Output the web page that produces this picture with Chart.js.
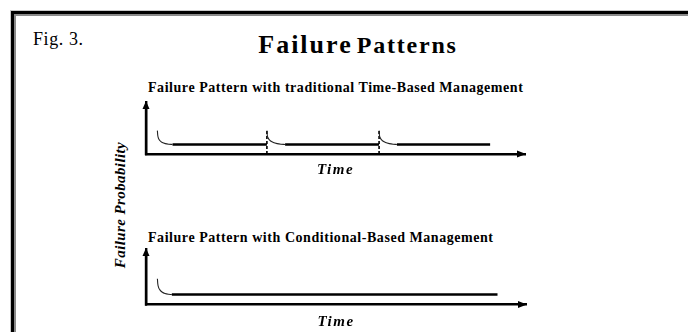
<!DOCTYPE html>
<html>
<head>
<meta charset="utf-8">
<script src="https://cdn.jsdelivr.net/npm/chart.js@4"></script>
<style>
  html, body { margin: 0; padding: 0; background: #fff; }
  body { width: 688px; height: 332px; position: relative; overflow: hidden; font-family: "Liberation Serif", "Times New Roman", serif; }
  #frame { position: absolute; left: 10px; top: 10px; width: 720px; height: 360px; border-left: 1px solid #c8c8c8; border-top: 1px solid #c8c8c8; }
  #frame2 { position: absolute; left: 0; top: 0; right: 0; bottom: 0; border-left: 3px solid #000; border-top: 3px solid #000; }
  #frame3 { position: absolute; left: 0; top: 0; right: 0; bottom: 0; border-left: 2px solid #8a8a8a; border-top: 2px solid #8a8a8a; }
  .txt { position: absolute; white-space: nowrap; color: #000; z-index: 1; }
  #fig { left: 33px; top: 29px; font-size: 18px; letter-spacing: 0.6px; }
  #title { left: 0; width: 716px; top: 30px; text-align: center; font-weight: bold; }
  #title .a { font-size: 26px; letter-spacing: 2px; }
  #title .b { font-size: 24px; letter-spacing: 1.8px; }
  #sub1 { left: 148px; top: 80px; font-size: 14px; font-weight: bold; letter-spacing: 0.55px; }
  #sub2 { left: 148px; top: 230px; font-size: 14px; font-weight: bold; letter-spacing: 0.55px; }
  #ylab { left: 120px; top: 205px; font-size: 15px; font-weight: bold; font-style: italic; letter-spacing: 0.4px; transform: translate(-50%, -50%) rotate(-90deg); }
  .plot { position: absolute; left: 0; width: 688px; }
  #w1 { top: 0; height: 190px; z-index: 3; }
  #w2 { top: 190px; height: 142px; z-index: 2; }
</style>
</head>
<body>
<div id="frame"><div id="frame2"><div id="frame3"></div></div></div>
<div class="txt" id="fig">Fig. 3.</div>
<div class="txt" id="title"><span class="a">Failure</span> <span class="b">Patterns</span></div>
<div class="txt" id="sub1">Failure Pattern with traditional Time-Based Management</div>
<div class="txt" id="sub2">Failure Pattern with Conditional-Based Management</div>
<div class="txt" id="ylab">Failure Probability</div>
<div class="plot" id="w1"><canvas id="c1" width="688" height="190"></canvas></div>
<div class="plot" id="w2"><canvas id="c2" width="688" height="142"></canvas></div>
<script>
// ---- scale ranges ----
const timeRange = [0, 100];
const probRange = [0, 10];
const xAxisLabel = "Time";

// ---- top chart: traditional time-based management ----
const topDecay1Time = [3.0, 3.1, 3.3, 3.7, 4.3, 5.1, 6.0, 7.0];
const topDecay1Prob = [4.5, 3.6, 3.0, 2.55, 2.22, 2.0, 1.88, 1.83];
const topDecay2Time = [31.9, 32.0, 32.3, 32.8, 33.6, 34.6, 35.6, 36.7];
const topDecay2Prob = [4.5, 3.6, 3.0, 2.55, 2.22, 2.0, 1.88, 1.83];
const topDecay3Time = [61.5, 61.6, 61.9, 62.4, 63.2, 64.2, 65.2, 66.2];
const topDecay3Prob = [4.5, 3.6, 3.0, 2.55, 2.22, 2.0, 1.88, 1.83];
const topFlatStart = [7.0, 36.7, 66.2];
const topFlatEnd = [31.9, 61.5, 90.8];
const topFlatProb = [1.83, 1.83, 1.83];
const topMaintTime = [31.9, 61.5];
const topMaintProb = [4.5, 4.5];

// ---- bottom chart: condition-based management ----
const botDecayTime = [3.0, 3.1, 3.3, 3.7, 4.3, 5.0, 5.9, 6.8];
const botDecayProb = [4.65, 3.75, 3.1, 2.6, 2.2, 1.98, 1.85, 1.8];
const botFlatStart = [6.8];
const botFlatEnd = [92.5];
const botFlatProb = [1.8];

function pts(xs, ys) { return xs.map((x, i) => ({ x: x, y: ys[i] })); }
function segs(starts, ends, levels) {
  const out = [];
  starts.forEach((s, i) => {
    out.push({ x: s, y: levels[i] }, { x: ends[i], y: levels[i] });
    if (i < starts.length - 1) out.push({ x: (ends[i] + starts[i + 1]) / 2, y: null });
  });
  return out;
}
function vsegs(xs, tops) {
  const out = [];
  xs.forEach((x, i) => {
    out.push({ x: x, y: probRange[0] }, { x: x, y: tops[i] });
    if (i < xs.length - 1) out.push({ x: (x + xs[i + 1]) / 2, y: null });
  });
  return out;
}

const arrowPlugin = {
  id: 'axisArrows',
  beforeDraw(chart) { chart.ctx.letterSpacing = '1.5px'; },
  afterDraw(chart) {
    const ctx = chart.ctx, xs = chart.scales.x, ys = chart.scales.y;
    ctx.letterSpacing = '0px';
    const x0 = xs.getPixelForValue(timeRange[0]);
    const y0 = ys.getPixelForValue(probRange[0]);
    const yTop = ys.getPixelForValue(probRange[1]);
    const xEnd = xs.getPixelForValue(timeRange[1]);
    ctx.save();
    ctx.setLineDash([]);
    ctx.strokeStyle = '#000';
    ctx.lineWidth = 2.4;
    ctx.beginPath();
    ctx.moveTo(x0, y0 + 1.2);
    ctx.lineTo(x0, yTop + 4);
    ctx.stroke();
    ctx.fillStyle = '#000';
    ctx.beginPath();
    ctx.moveTo(x0, yTop - 1);
    ctx.lineTo(x0 - 3.5, yTop + 7);
    ctx.lineTo(x0 + 3.5, yTop + 7);
    ctx.closePath();
    ctx.fill();
    ctx.beginPath();
    ctx.moveTo(xEnd + 1, y0);
    ctx.lineTo(xEnd - 8, y0 - 3.5);
    ctx.lineTo(xEnd - 8, y0 + 3.5);
    ctx.closePath();
    ctx.fill();
    ctx.restore();
  }
};

const thinLine = { borderColor: '#222', borderWidth: 1.1, pointRadius: 0, cubicInterpolationMode: 'monotone', fill: false, spanGaps: false };
const flatLine = { borderColor: '#000', borderWidth: 2.6, pointRadius: 0, tension: 0, fill: false, spanGaps: false, borderCapStyle: 'butt' };
const dashLine = { borderColor: '#000', borderWidth: 1.6, pointRadius: 0, tension: 0, fill: false, spanGaps: false, borderDash: [3, 2] };

function makeOptions(pad, titleTop) {
  return {
    responsive: false,
    animation: false,
    events: [],
    layout: { padding: pad },
    plugins: { legend: { display: false }, tooltip: { enabled: false }, title: { display: false } },
    scales: {
      x: {
        type: 'linear', min: timeRange[0], max: timeRange[1],
        grid: { display: false, drawTicks: false },
        border: { display: true, color: '#000', width: 2.4 },
        ticks: { display: false },
        title: { display: true, text: xAxisLabel, color: '#000', padding: { top: titleTop, bottom: 0 },
          font: { family: 'Liberation Serif', size: 15, weight: 'bold', style: 'italic', lineHeight: 1.2 } }
      },
      y: {
        type: 'linear', min: probRange[0], max: probRange[1],
        grid: { display: false, drawTicks: false },
        border: { display: true, color: '#000', width: 2.4 },
        ticks: { display: false }
      }
    }
  };
}

new Chart(document.getElementById('c1'), {
  type: 'line',
  data: {
    datasets: [
      Object.assign({ label: 'Initial failure', data: pts(topDecay1Time, topDecay1Prob) }, thinLine),
      Object.assign({ label: 'Failure after maintenance 1', data: pts(topDecay2Time, topDecay2Prob) }, thinLine),
      Object.assign({ label: 'Failure after maintenance 2', data: pts(topDecay3Time, topDecay3Prob) }, thinLine),
      Object.assign({ label: 'Steady failure rate', data: segs(topFlatStart, topFlatEnd, topFlatProb) }, flatLine),
      Object.assign({ label: 'Scheduled maintenance', data: vsegs(topMaintTime, topMaintProb) }, dashLine)
    ]
  },
  options: makeOptions({ left: 146, right: 163, top: 102, bottom: 11 }, 7),
  plugins: [arrowPlugin]
});

new Chart(document.getElementById('c2'), {
  type: 'line',
  data: {
    datasets: [
      Object.assign({ label: 'Initial failure', data: pts(botDecayTime, botDecayProb) }, thinLine),
      Object.assign({ label: 'Steady failure rate', data: segs(botFlatStart, botFlatEnd, botFlatProb) }, flatLine)
    ]
  },
  options: makeOptions({ left: 146, right: 162, top: 59, bottom: 1 }, 8.5),
  plugins: [arrowPlugin]
});
</script>
</body>
</html>
